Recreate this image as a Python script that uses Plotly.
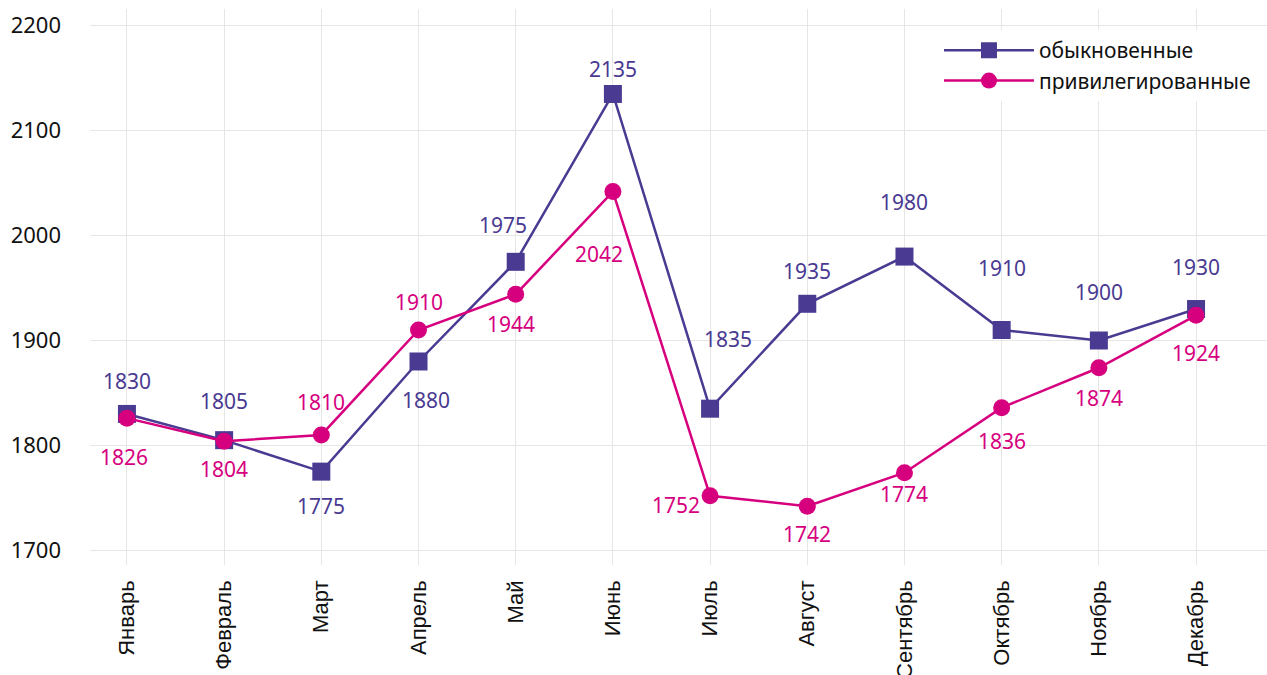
import plotly.graph_objects as go

months = ["Январь", "Февраль", "Март", "Апрель", "Май", "Июнь",
          "Июль", "Август", "Сентябрь", "Октябрь", "Ноябрь", "Декабрь"]
ordinary = [1830, 1805, 1775, 1880, 1975, 2135, 1835, 1935, 1980, 1910, 1900, 1930]
preferred = [1826, 1804, 1810, 1910, 1944, 2042, 1752, 1742, 1774, 1836, 1874, 1924]
y_ticks = [1700, 1800, 1900, 2000, 2100, 2200]

# label offsets in px (dx, dy), screen coords (dy positive = down)
ord_label_off = [(0, -33), (0, -39), (0, 34), (7, 39), (-13, -37), (0, -25),
                 (18, -70), (0, -33), (0, -55), (0, -62), (0, -49), (0, -42)]
pref_label_off = [(-3, 39), (0, 28), (0, -33), (0, -28), (-5, 30), (-14, 62),
                  (-34, 9), (0, 28), (0, 21), (0, 33), (0, 30), (0, 38)]

PURPLE = "#4a3a92"
MAGENTA = "#d6007f"
NUM_FONT = "Noto Sans"

fig = go.Figure()
fig.add_trace(go.Scatter(
    x=months, y=ordinary, name="обыкновенные", mode="lines+markers",
    line=dict(color=PURPLE, width=2.5),
    marker=dict(symbol="square", size=18, color=PURPLE),
))
fig.add_trace(go.Scatter(
    x=months, y=preferred, name="привилегированные", mode="lines+markers",
    line=dict(color=MAGENTA, width=2.5),
    marker=dict(symbol="circle", size=17, color=MAGENTA),
))

annotations = []
for vals, offs, col in ((ordinary, ord_label_off, PURPLE), (preferred, pref_label_off, MAGENTA)):
    for m, v, (dx, dy) in zip(months, vals, offs):
        annotations.append(dict(
            x=m, y=v, xref="x", yref="y", text=str(v), showarrow=False,
            xshift=dx, yshift=-dy,
            font=dict(family=NUM_FONT, size=21, color=col),
        ))

fig.update_layout(
    width=1267, height=675,
    margin=dict(l=90, r=0, t=9, b=110, autoexpand=False),
    paper_bgcolor="white", plot_bgcolor="white",
    showlegend=True,
    legend=dict(
        x=0.7213, y=0.962, xanchor="left", yanchor="top",
        font=dict(family=NUM_FONT, size=21, color="#111111"),
        bgcolor="rgba(255,255,255,1)", itemwidth=90, tracegroupgap=0,
    ),
    annotations=annotations,
)
fig.update_xaxes(
    type="category", range=[-0.38, 11.73], automargin=False,
    showgrid=True, gridcolor="#e6e6e6", gridwidth=1,
    showline=False, zeroline=False, ticks="",
    tickangle=-90, ticklabelstandoff=10,
    tickfont=dict(family="Liberation Sans", size=22, color="#111111"),
)
fig.update_yaxes(
    range=[1686, 2216], tickvals=y_ticks, automargin=False,
    showgrid=True, gridcolor="#e6e6e6", gridwidth=1,
    showline=False, zeroline=False, ticks="",
    ticklabelstandoff=28,
    tickfont=dict(family=NUM_FONT, size=22, color="#111111"),
)

fig.write_html(
    "out.html",
    config={"displayModeBar": False},
    post_script="document.body.style.margin='0';document.body.style.overflow='hidden';",
)
